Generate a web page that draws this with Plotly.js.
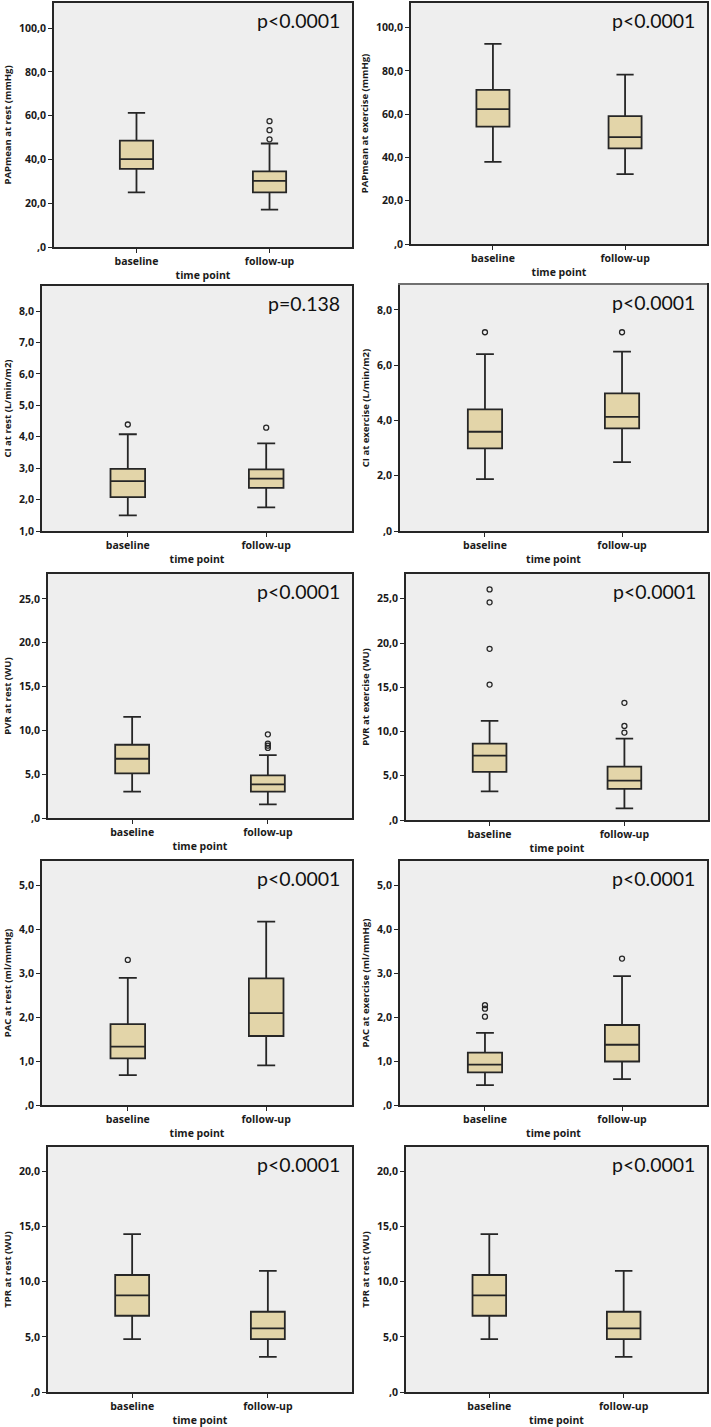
<!DOCTYPE html>
<html>
<head>
<meta charset="utf-8">
<script src="https://cdn.plot.ly/plotly-3.0.1.min.js"></script>
<style>html,body{margin:0;padding:0;background:#fff;}#chart{width:711px;height:1427px;}</style>
</head>
<body>
<div id="chart"></div>
<script>
// ---- DATA ----
const categories = ["baseline", "follow-up"];

const yTitles = [
  "PAPmean at rest (mmHg)", "PAPmean at exercise (mmHg)",
  "CI at rest (L/min/m2)", "CI at exercise (L/min/m2)",
  "PVR at rest (WU)", "PVR at exercise (WU)",
  "PAC at rest (ml/mmHg)", "PAC at exercise (ml/mmHg)",
  "TPR at rest (WU)", "TPR at rest (WU)"
];
const pLabels = ["p<0.0001","p<0.0001","p=0.138","p<0.0001","p<0.0001","p<0.0001","p<0.0001","p<0.0001","p<0.0001","p<0.0001"];

// [baseline, follow-up] per panel
const lowerFence = [[25,17.1],[38,32.3],[1.50,1.75],[1.88,2.49],[3.0,1.56],[3.24,1.32],[0.68,0.90],[0.45,0.59],[4.79,3.18],[4.79,3.18]];
const q1Vals     = [[35.7,25],[54.3,44.2],[2.08,2.37],[2.99,3.71],[5.09,3.0],[5.43,3.51],[1.06,1.57],[0.74,0.99],[6.91,4.79],[6.91,4.79]];
const medianVals = [[40.2,30.2],[62.3,49.4],[2.59,2.67],[3.59,4.13],[6.76,3.84],[7.28,4.45],[1.33,2.09],[0.92,1.37],[8.76,5.76],[8.76,5.76]];
const q3Vals     = [[48.6,34.6],[71.2,59.1],[2.98,2.96],[4.40,4.98],[8.36,4.86],[8.63,6.03],[1.84,2.88],[1.19,1.82],[10.6,7.27],[10.6,7.27]];
const upperFence = [[61.3,47.3],[92.5,78.3],[4.08,3.79],[6.40,6.49],[11.55,7.18],[11.2,9.2],[2.89,4.17],[1.64,2.93],[14.3,10.97],[14.3,10.97]];

// outliers: [baseline list, follow-up list]
const outliers = [
  [[], [57.5,53.4,49.2]],
  [[], []],
  [[4.39], [4.29]],
  [[7.19], [7.19]],
  [[], [9.55,8.5,8.25,8.0]],
  [[26.06,24.6,19.34,15.3], [13.24,10.63,9.88]],
  [[3.30], []],
  [[2.27,2.19,2.01], [3.33]],
  [[], []],
  [[], []]
];

// y axis ticks
const tickVals = [
  [0,20,40,60,80,100],[0,20,40,60,80,100],
  [1,2,3,4,5,6,7,8],[0,2,4,6,8],
  [0,5,10,15,20,25],[0,5,10,15,20,25],
  [0,1,2,3,4,5],[0,1,2,3,4,5],
  [0,5,10,15,20],[0,5,10,15,20]
];
const tickText = [
  [",0","20,0","40,0","60,0","80,0","100,0"],[",0","20,0","40,0","60,0","80,0","100,0"],
  ["1,0","2,0","3,0","4,0","5,0","6,0","7,0","8,0"],[",0","2,0","4,0","6,0","8,0"],
  [",0","5,0","10,0","15,0","20,0","25,0"],[",0","5,0","10,0","15,0","20,0","25,0"],
  [",0","1,0","2,0","3,0","4,0","5,0"],[",0","1,0","2,0","3,0","4,0","5,0"],
  [",0","5,0","10,0","15,0","20,0"],[",0","5,0","10,0","15,0","20,0"]
];
const yRanges = [[0,111.5],[0,111.4],[1,8.8],[0,8.9],[0,27.85],[0,27.8],[0,5.55],[0,5.55],[0,22.2],[0,22.2]];

// ---- LAYOUT (pixel boxes of plot areas: left, right, top, bottom) ----
const W = 711, H = 1427;
const boxes = [
  [54,352,3,247],[411,707,3,244],
  [42,352,286,531],[400,707,285,531],
  [48,352,574,818],[406,708,574,820],
  [42,352,861,1105],[400,707,861,1105],
  [48,352,1147,1392],[406,707,1147,1392]
];

const INK = "#262626";
const FILL = "#e3d5a9";
const BG = "#eeeeee";
const tickFont = {family: "Open Sans, DejaVu Sans, sans-serif", size: 10.5, color: "#1a1a1a", weight: "bold"};

const traces = [];
const layout = {
  width: W, height: H,
  margin: {l:0, r:0, t:0, b:0},
  paper_bgcolor: "#ffffff",
  plot_bgcolor: BG,
  showlegend: false,
  annotations: [],
  shapes: [
    {type: "line", xref: "paper", yref: "paper", x0: 398/W, x1: 707/W, y0: 1 - 284/H, y1: 1 - 284/H,
     line: {color: "#bbbbbb", width: 1}}
  ]
};

for (let i = 0; i < 10; i++) {
  const n = i + 1;
  const xa = n === 1 ? "x" : "x" + n;
  const ya = n === 1 ? "y" : "y" + n;
  const xk = n === 1 ? "xaxis" : "xaxis" + n;
  const yk = n === 1 ? "yaxis" : "yaxis" + n;
  const b = boxes[i];

  traces.push({
    type: "box", xaxis: xa, yaxis: ya,
    x: categories,
    q1: q1Vals[i], median: medianVals[i], q3: q3Vals[i],
    lowerfence: lowerFence[i], upperfence: upperFence[i],
    boxpoints: false,
    width: 0.25, whiskerwidth: 0.52,
    fillcolor: FILL,
    line: {color: INK, width: 1.8},
    hoverinfo: "skip"
  });

  const ox = [], oy = [];
  outliers[i].forEach((arr, c) => arr.forEach(v => { ox.push(categories[c]); oy.push(v); }));
  if (oy.length) {
    traces.push({
      type: "scatter", mode: "markers", xaxis: xa, yaxis: ya,
      x: ox, y: oy,
      marker: {symbol: "circle-open", size: 5, color: INK, line: {width: 1.3, color: INK}},
      hoverinfo: "skip"
    });
  }

  layout[xk] = {
    domain: [b[0]/W, b[1]/W],
    anchor: ya,
    type: "category",
    categoryorder: "array", categoryarray: categories,
    range: [-0.62, 1.62],
    showgrid: false, zeroline: false,
    showline: true, mirror: true, linecolor: INK, linewidth: 1.8,
    ticks: "outside", ticklen: 4, tickwidth: 1, tickcolor: INK,
    tickfont: tickFont,
    title: {text: "time point", font: {family: "Open Sans, DejaVu Sans, sans-serif", size: 10.5, color: "#1a1a1a", weight: "bold"}, standoff: 4},
    fixedrange: true
  };
  layout[yk] = {
    domain: [1 - b[3]/H, 1 - b[2]/H],
    anchor: xa,
    range: yRanges[i],
    tickmode: "array", tickvals: tickVals[i], ticktext: tickText[i],
    showgrid: false, zeroline: false,
    showline: true, mirror: true, linecolor: INK, linewidth: 1.8,
    ticks: "outside", ticklen: 4, tickwidth: 1, tickcolor: INK,
    tickfont: tickFont,
    title: {text: yTitles[i], font: {family: "Open Sans, DejaVu Sans, sans-serif", size: 9.5, color: "#1a1a1a", weight: "bold"}, standoff: 6},
    fixedrange: true
  };

  layout.annotations.push({
    xref: xa + " domain", yref: ya + " domain",
    x: 1, y: 1, xanchor: "right", yanchor: "top", xshift: -10, yshift: -4,
    text: pLabels[i], showarrow: false,
    font: {family: "Lato, Open Sans, sans-serif", size: 19.5, color: "#111"}
  });
}

Plotly.newPlot("chart", traces, layout, {staticPlot: true, displayModeBar: false});
</script>
</body>
</html>
